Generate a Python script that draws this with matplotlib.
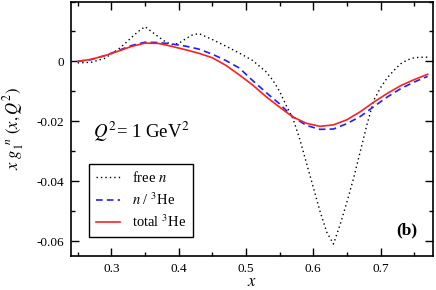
import matplotlib
matplotlib.use("Agg")
import matplotlib.pyplot as plt
from matplotlib.ticker import MultipleLocator, FixedLocator

plt.rcParams['font.family'] = 'serif'
plt.rcParams['font.serif'] = ['Liberation Serif', 'DejaVu Serif']
plt.rcParams['mathtext.fontset'] = 'stix'

# total 3He (red solid)
x_tot = [0.25, 0.27, 0.29, 0.31, 0.33, 0.35, 0.37, 0.39, 0.41, 0.43, 0.45, 0.47, 0.49,
         0.51, 0.53, 0.55, 0.57, 0.59, 0.61, 0.63, 0.65, 0.67, 0.69, 0.71, 0.73, 0.75, 0.77]
y_tot = [0.0000, 0.0007, 0.0019, 0.0034, 0.0050, 0.0061, 0.0060, 0.0050, 0.0039, 0.0027,
         0.0012, -0.0013, -0.0045, -0.0079, -0.0118, -0.0153, -0.0186, -0.0207, -0.0217,
         -0.0212, -0.0195, -0.0168, -0.0136, -0.0107, -0.0081, -0.0061, -0.0043]

# n / 3He (blue dashed)
x_n3 = x_tot
y_n3 = [0.0000, 0.0006, 0.0019, 0.0036, 0.0053, 0.0064, 0.0063, 0.0058, 0.0051, 0.0041,
        0.0024, 0.0003, -0.0022, -0.0064, -0.0104, -0.0142, -0.0186, -0.0214, -0.0227,
        -0.0226, -0.0208, -0.0184, -0.0151, -0.0119, -0.0091, -0.0069, -0.0050]

# free n (black dotted)
x_free = [0.25, 0.27, 0.29, 0.30, 0.31, 0.32, 0.33, 0.34, 0.35, 0.36, 0.37, 0.38, 0.39,
          0.40, 0.41, 0.42, 0.43, 0.44, 0.45, 0.47, 0.49, 0.51, 0.53, 0.54, 0.55, 0.56,
          0.57, 0.58, 0.59, 0.60, 0.61, 0.62, 0.63, 0.64, 0.65, 0.66, 0.67, 0.68, 0.69,
          0.70, 0.71, 0.72, 0.73, 0.74, 0.75, 0.76, 0.77]
y_free = [-0.0005, -0.0003, 0.0010, 0.0025, 0.0040, 0.0059, 0.0080, 0.0100, 0.0116, 0.0099,
          0.0082, 0.0066, 0.0056, 0.0060, 0.0075, 0.0088, 0.0093, 0.0083, 0.0073, 0.0051,
          0.0028, 0.0003, -0.0035, -0.0063, -0.0100, -0.0148, -0.0192, -0.0260, -0.0340,
          -0.0420, -0.0500, -0.0570, -0.0610, -0.0545, -0.0470, -0.0390, -0.0300, -0.0210,
          -0.0130, -0.0088, -0.0055, -0.0030, -0.0008, 0.0005, 0.0012, 0.0014, 0.0014]

x_ticks = [0.3, 0.4, 0.5, 0.6, 0.7]
y_ticks = [0.0, -0.02, -0.04, -0.06]
y_tick_labels = ['0', '-0.02', '-0.04', '-0.06']

fig = plt.figure(figsize=(4.36, 2.90), dpi=100)
ax = fig.add_axes([71/436, 1 - 256/290, 362/436, 254.5/290])

ax.plot(x_free, y_free, color='black', linestyle=(0, (1, 2.2)), linewidth=1.0, label=r'free $n$')
ax.plot(x_n3, y_n3, color='#1f1fff', linestyle=(0, (4, 2.5)), linewidth=1.2, label=r'$n$ / $^3$He')
ax.plot(x_tot, y_tot, color='#ff2020', linestyle='-', linewidth=1.2, label=r'total $^3$He')

ax.set_xlim(0.24, 0.778)
ax.set_ylim(-0.065, 0.02)

ax.xaxis.set_major_locator(FixedLocator(x_ticks))
ax.xaxis.set_minor_locator(MultipleLocator(0.05))
ax.yaxis.set_major_locator(FixedLocator(y_ticks))
ax.yaxis.set_minor_locator(MultipleLocator(0.01))
ax.set_xticklabels([f'{v:.1f}' for v in x_ticks])
ax.set_yticklabels(y_tick_labels)

ax.tick_params(which='both', direction='in', top=True, right=True, labelsize=9.5, width=1.0)
ax.tick_params(which='major', length=6, pad=5)
ax.tick_params(which='minor', length=3)
for s in ax.spines.values():
    s.set_linewidth(1.2)

ax.set_xlabel(r'$x$', fontsize=12, labelpad=-1)
ax.set_ylabel(r'$x\ g_1^{\ \,n}\ (x,Q^2)$', fontsize=12)
ax.yaxis.set_label_coords(-0.125, 0.5)

ax.text(0.272, -0.0257, r'$Q^2$= 1 GeV$^2$', fontsize=13.5, va='baseline', ha='left')
ax.text(0.956, 0.083, '(b)', transform=ax.transAxes, fontsize=12.5, fontweight='bold',
        ha='right', va='baseline')

leg = ax.legend(loc='lower left', bbox_to_anchor=(0.05, 0.075), fontsize=10.5,
                frameon=True, fancybox=False, framealpha=1, edgecolor='black',
                handlelength=1.7, handletextpad=0.8, labelspacing=0.4,
                borderpad=0.45, borderaxespad=0)
leg.get_frame().set_linewidth(1.0)

fig.savefig('out.png', dpi=100)
